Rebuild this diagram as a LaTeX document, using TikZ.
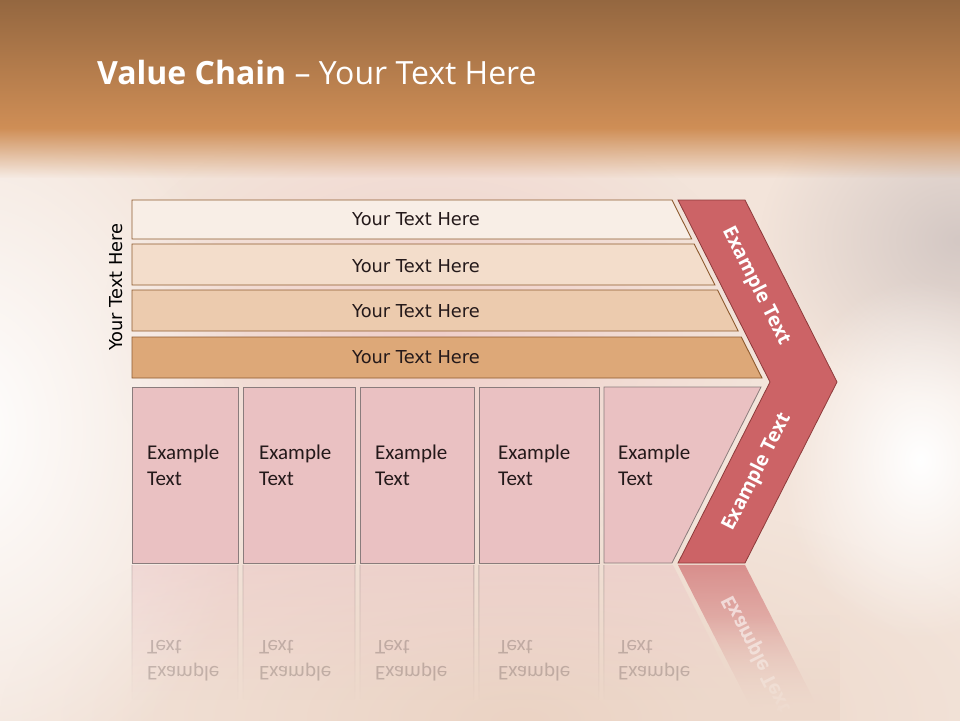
\documentclass[tikz,border=0pt]{standalone}
\usepackage{fontspec}
\setmainfont{Carlito}
\newfontfamily\titlefont{Open Sans}
\newfontfamily\chevfont{Open Sans}
\newfontfamily\barfont{DejaVu Sans}
\usetikzlibrary{fadings}
\definecolor{bgbase}{HTML}{F3E4DA}
\definecolor{bgtop}{HTML}{946740}
\definecolor{bgorange}{HTML}{CF8E56}
\definecolor{bgpink}{HTML}{F0CFCA}
\definecolor{bggrey}{HTML}{D4C8C4}
\definecolor{bgbottom}{HTML}{EBD3C4}
\definecolor{bar1}{HTML}{F8EEE6}
\definecolor{bar2}{HTML}{F3DDCB}
\definecolor{bar3}{HTML}{ECCBAE}
\definecolor{bar4}{HTML}{DDA878}
\definecolor{barline}{HTML}{8E5B2F}
\definecolor{boxfill}{HTML}{EAC1C2}
\definecolor{boxline}{HTML}{8A7C7C}
\definecolor{chevfill}{HTML}{CC6366}
\definecolor{chevline}{HTML}{8E3B3B}
\definecolor{textdark}{HTML}{24191A}
\tikzfading[name=glow, inner color=transparent!0, outer color=transparent!100]
\tikzfading[name=softdown, top color=transparent!0, bottom color=transparent!100]
\tikzfading[name=softup, top color=transparent!100, bottom color=transparent!0]
\tikzfading[name=reflfade, top color=transparent!55, bottom color=transparent!100]
\tikzfading[name=reflchev, top color=transparent!35, bottom color=transparent!100]
\begin{document}
\begin{tikzpicture}[x=1pt,y=-1pt,
  barshape/.style={draw=barline, line width=0.9pt},
  boxshape/.style={draw=boxline, fill=boxfill, line width=0.8pt},
  chevshape/.style={draw=chevline, fill=chevfill, line width=0.8pt},
  bartext/.style={font=\barfont\fontsize{17.8}{21}\selectfont, text=textdark},
  boxtext/.style={font=\fontsize{21}{25.5}\selectfont, text=textdark, align=left, anchor=west, inner sep=0pt},
  chevtext/.style={font=\chevfont\bfseries\fontsize{19.5}{23}\selectfont, text=white},
  refltext/.style={boxtext, yscale=-1, text opacity=0.22},
]
\useasboundingbox (0,0) rectangle (960,720);
% ---------- background ----------
\fill[bgbase] (-20,-20) rectangle (980,740);
\fill[bgbottom, path fading=glow] (520,720) ellipse [x radius=520, y radius=230];
\fill[bgpink, path fading=glow] (430,330) ellipse [x radius=330, y radius=230];
\fill[bggrey, path fading=glow] (960,240) ellipse [x radius=200, y radius=160];
\fill[white, path fading=glow] (-40,430) ellipse [x radius=300, y radius=380];
\fill[white, path fading=glow] (920,460) ellipse [x radius=140, y radius=180];
\shade[top color=bgtop, bottom color=bgorange] (-20,0) rectangle (980,128.5);
\fill[bgorange, path fading=softdown] (-20,128) rectangle (980,178);
% ---------- title ----------
\node[anchor=base west, inner sep=0pt, text=white,
      font=\titlefont\fontsize{32}{38}\selectfont] (title) at (97,84)
  {\textbf{Value Chain} – Your Text Here};
% ---------- side label ----------
\node[bartext, text=black, rotate=90] (side) at (116,287) {Your Text Here};
% ---------- bars ----------
\path[barshape, fill=bar1] (132,200) -- (672,200) -- (691.7,239) -- (132,239) -- cycle;
\path[barshape, fill=bar2] (132,244) -- (694.2,244) -- (714.9,285) -- (132,285) -- cycle;
\path[barshape, fill=bar3] (132,290) -- (717.5,290) -- (738.2,331) -- (132,331) -- cycle;
\path[barshape, fill=bar4] (132,337) -- (741.3,337) -- (762,378) -- (132,378) -- cycle;
\node[bartext] (b1) at (416,219.5) {Your Text Here};
\node[bartext] (b2) at (416,266) {Your Text Here};
\node[bartext] (b3) at (416,311) {Your Text Here};
\node[bartext] (b4) at (416,357) {Your Text Here};
% ---------- boxes ----------
\path[boxshape] (132,387) rectangle (238,563);
\path[boxshape] (243,387) rectangle (355,563);
\path[boxshape] (360,387) rectangle (474,563);
\path[boxshape] (479,387) rectangle (599,563);
\path[boxshape] (604,387) -- (761,387) -- (672,563) -- (604,563) -- cycle;
\node[boxtext] (x1) at (147,465.5) {Example\\Text};
\node[boxtext] (x2) at (259,465.5) {Example\\Text};
\node[boxtext] (x3) at (375,465.5) {Example\\Text};
\node[boxtext] (x4) at (498,465.5) {Example\\Text};
\node[boxtext] (x5) at (618,465.5) {Example\\Text};
% ---------- chevron ----------
\path[chevshape] (678,200) -- (745,200) -- (837,382) -- (745,563) -- (678,563) -- (770,382) -- cycle;
\node[chevtext, rotate=-63.2] (c1) at (756,286) {Example Text};
\node[chevtext, rotate=63.2] (c2) at (757,472) {Example Text};
% ---------- reflection ----------
\fill[boxfill, path fading=reflfade] (132,565) rectangle (238,700);
\fill[boxfill, path fading=reflfade] (243,565) rectangle (355,700);
\fill[boxfill, path fading=reflfade] (360,565) rectangle (474,700);
\fill[boxfill, path fading=reflfade] (479,565) rectangle (599,700);
\fill[boxfill, path fading=reflfade] (604,565) -- (673,565) -- (741,700) -- (604,700) -- cycle;
\fill[boxline, path fading=reflfade]
  (131.6,565) rectangle (132.4,700) (237.6,565) rectangle (238.4,700)
  (242.6,565) rectangle (243.4,700) (354.6,565) rectangle (355.4,700)
  (359.6,565) rectangle (360.4,700) (473.6,565) rectangle (474.4,700)
  (478.6,565) rectangle (479.4,700) (598.6,565) rectangle (599.4,700)
  (603.6,565) rectangle (604.4,700);
\fill[chevfill, path fading=reflchev] (678,565) -- (745,565) -- (819,710) -- (752,710) -- cycle;
\node[refltext] (r1) at (147,660.5) {Example\\Text};
\node[refltext] (r2) at (259,660.5) {Example\\Text};
\node[refltext] (r3) at (375,660.5) {Example\\Text};
\node[refltext] (r4) at (498,660.5) {Example\\Text};
\node[refltext] (r5) at (618,660.5) {Example\\Text};
\node[chevtext, rotate=-63.2, yscale=-1, text opacity=0.6] (rc) at (757,654) {Example Text};
\fill[bgbottom!70!bgbase, path fading=softup] (690,615) rectangle (840,720);
\end{tikzpicture}
\end{document}
